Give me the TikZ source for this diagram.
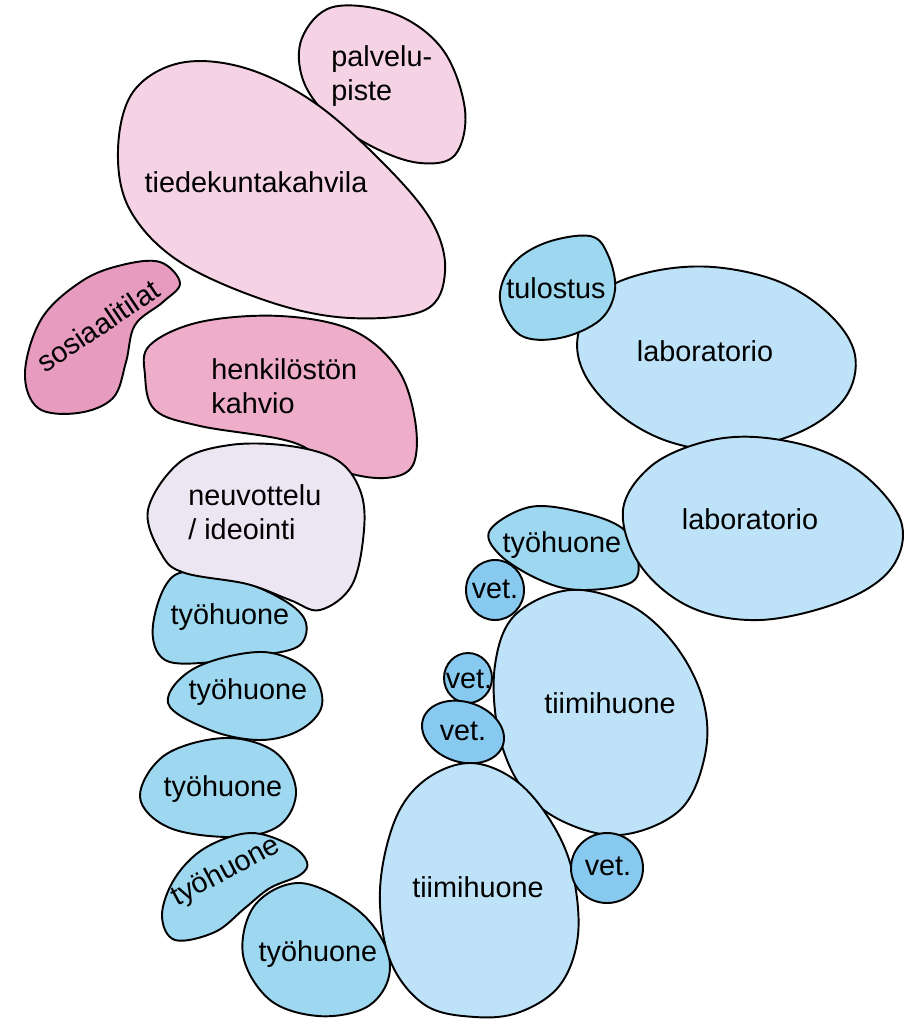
\documentclass[tikz,border=0pt]{standalone}
\usepackage{fontspec}
\setmainfont{Liberation Sans}
\usepackage{tikz}
\definecolor{roosa}{HTML}{F6D3E4}
\definecolor{roosa2}{HTML}{EEADC9}
\definecolor{roosa3}{HTML}{E79CBF}
\definecolor{lila}{HTML}{ECE6F2}
\definecolor{sini}{HTML}{9DD7F0}
\definecolor{vaalsini}{HTML}{BEE3F8}
\definecolor{vetsini}{HTML}{88C9EF}
\tikzset{
    tila/.style   = {draw=black, line width=1.1pt, smooth cycle, tension=0.6},
    kahvila/.style = {tila, fill=roosa},
    henk/.style   = {tila, fill=roosa2},
    sosi/.style   = {tila, fill=roosa3},
    neuv/.style   = {tila, fill=lila},
    huone/.style  = {tila, fill=sini},
    iso/.style    = {tila, fill=vaalsini},
    vet/.style    = {draw=black, line width=1.1pt, fill=vetsini},
    nimi/.style   = {font=\fontsize{16.4}{19.6}\selectfont, inner sep=0pt},
    rivit/.style  = {nimi, align=left, anchor=west}
}
\begin{document}
\begin{tikzpicture}[x=0.02cm, y=-0.02cm]
    \useasboundingbox (0,0) rectangle (909,1020);

    % --- kahvilat ---
    \draw[kahvila] plot coordinates {(333,7) (395,14) (443,50) (465,110) (455,155) (420,163) (375,148) (330,118) (303,80) (302,38)};
    \draw[kahvila] plot coordinates {(118,150) (133,92) (180,63) (245,68) (315,103) (385,165) (432,222) (445,272) (425,310) (350,318) (270,302) (180,262) (130,210)};
    \draw[sosi] plot coordinates {(160,262) (180,283) (163,302) (135,325) (126,362) (113,398) (78,413) (38,408) (25,372) (42,318) (82,281) (122,265)};
    \draw[henk] plot coordinates {(150,345) (200,322) (280,316) (352,330) (397,368) (415,420) (413,465) (385,478) (340,470) (292,442) (200,426) (155,410) (145,375)};

    % --- vasen rivi ---
    \draw[huone] plot coordinates {(175,575) (230,578) (280,598) (305,620) (300,645) (265,655) (215,662) (165,660) (153,625)};
    \draw[neuv] plot coordinates {(180,462) (230,445) (290,446) (337,460) (360,490) (364,530) (352,585) (320,610) (290,600) (247,584) (185,573) (162,555) (148,510)};
    \draw[huone] plot coordinates {(263,652) (310,672) (322,705) (300,730) (260,740) (210,730) (168,703) (195,668)};
    \draw[huone] plot coordinates {(225,738) (275,752) (296,790) (280,825) (235,837) (170,828) (140,797) (165,755)};
    \draw[huone] plot coordinates {(250,833) (290,845) (307,862) (300,875) (270,888) (245,908) (215,932) (175,940) (162,915) (175,878) (205,848)};
    \draw[huone] plot coordinates {(300,883) (355,908) (385,945) (388,980) (365,1008) (318,1016) (270,1000) (243,955) (255,905)};

    % --- oikea puoli ---
    \draw[iso] plot coordinates {(600,293) (650,272) (713,267) (780,282) (830,315) (855,355) (845,398) (800,432) (730,450) (670,442) (620,415) (585,375) (578,335)};
    \draw[huone] plot coordinates {(590,236) (608,255) (615,290) (600,320) (560,338) (520,335) (500,300) (512,265) (545,243)};
    \draw[huone] plot coordinates {(530,507) (580,512) (622,528) (637,555) (632,582) (580,590) (540,580) (500,555) (490,530)};
    \draw[iso] plot coordinates {(650,467) (700,443) (755,437) (820,450) (870,480) (902,525) (890,570) (840,602) (760,620) (690,607) (640,565) (623,510)};
    \draw[vet] (495,590) ellipse [x radius=29, y radius=30];
    \draw[iso] plot coordinates {(570,590) (630,605) (675,645) (703,700) (705,755) (680,810) (620,835) (560,820) (520,785) (498,730) (495,665) (515,615)};
    \draw[vet] (468,678) ellipse [x radius=24, y radius=25];
    \draw[vet] (463,732) ellipse [x radius=42, y radius=30, rotate=-18];
    \draw[iso] plot coordinates {(470,763) (515,780) (550,820) (572,870) (578,935) (560,985) (520,1012) (475,1017) (425,1005) (390,960) (380,890) (395,820) (425,780)};
    \draw[vet] (607,868) ellipse [x radius=36, y radius=35];

    % --- nimet ---
    \node[rivit] (palv) at (331,76) {palvelu-\\piste};
    \node[nimi] (kahv) at (256,182) {tiedekuntakahvila};
    \node[nimi, rotate=34] (sosi) at (98,326) {sosiaalitilat};
    \node[rivit] (henk) at (211,386) {henkilöstön\\kahvio};
    \node[rivit] (neuv) at (188,512) {neuvottelu\\/ ideointi};
    \node[nimi] (th1) at (230,617) {työhuone};
    \node[nimi] (th2) at (248,692) {työhuone};
    \node[nimi] (th3) at (223,789) {työhuone};
    \node[nimi, rotate=28] (th4) at (226,872) {työhuone};
    \node[nimi] (th5) at (318,954) {työhuone};
    \node[nimi] (tulo) at (556,288) {tulostus};
    \node[nimi] (lab1) at (705,351) {laboratorio};
    \node[nimi] (lab2) at (750,519) {laboratorio};
    \node[nimi] (th6) at (562,545) {työhuone};
    \node[nimi] (vet1) at (495,589) {vet.};
    \node[nimi] (vet2) at (469,679) {vet.};
    \node[nimi] (vet3) at (463,731) {vet.};
    \node[nimi] (vet4) at (608,866) {vet.};
    \node[nimi] (tiimi1) at (610,703) {tiimihuone};
    \node[nimi] (tiimi2) at (478,887) {tiimihuone};
\end{tikzpicture}
\end{document}
